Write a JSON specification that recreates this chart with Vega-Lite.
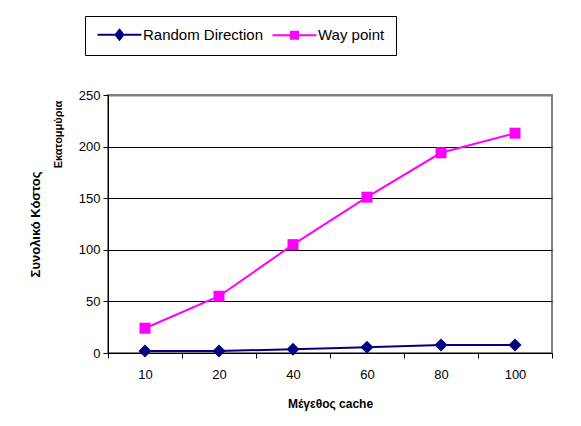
{
  "$schema": "https://vega.github.io/schema/vega-lite/v6.json",
  "width": 444,
  "height": 258,
  "autosize": {"type": "none"},
  "padding": {"left": 108, "top": 95, "right": 29, "bottom": 73},
  "background": "white",
  "config": {
    "font": "Liberation Sans",
    "view": {"stroke": "#808080", "strokeWidth": 2},
    "axis": {"labelFont": "Liberation Sans", "titleFont": "Liberation Sans", "labelColor": "#000", "titleColor": "#000"},
    "legend": {"labelFont": "Liberation Sans"}
  },
  "data": {
    "values": [
      {"size": 10, "series": "Random Direction", "cost": 2},
      {"size": 20, "series": "Random Direction", "cost": 2},
      {"size": 40, "series": "Random Direction", "cost": 3.6},
      {"size": 60, "series": "Random Direction", "cost": 5.5},
      {"size": 80, "series": "Random Direction", "cost": 7.7},
      {"size": 100, "series": "Random Direction", "cost": 7.8},
      {"size": 10, "series": "Way point", "cost": 24},
      {"size": 20, "series": "Way point", "cost": 55},
      {"size": 40, "series": "Way point", "cost": 105},
      {"size": 60, "series": "Way point", "cost": 151},
      {"size": 80, "series": "Way point", "cost": 194},
      {"size": 100, "series": "Way point", "cost": 213}
    ]
  },
  "layer": [
    {
      "encoding": {
        "x": {
          "field": "size",
          "type": "ordinal",
          "scale": {"type": "band", "paddingInner": 0, "paddingOuter": 0},
          "axis": {
            "title": "Μέγεθος cache",
            "titleFontSize": 12,
            "titleFontWeight": "bold",
            "titlePadding": 17,
            "labelAngle": 0,
            "labelFontSize": 13,
            "labelPadding": 10,
            "tickBand": "extent",
            "tickSize": 5,
            "tickColor": "#000",
            "domainColor": "#000",
            "grid": false
          }
        },
        "y": {
          "field": "cost",
          "type": "quantitative",
          "scale": {"domain": [0, 250]},
          "axis": {
            "title": "Συνολικό Κόστος",
            "titleFontSize": 13,
            "titleFontWeight": "bold",
            "titleAngle": -90,
            "titleX": -73,
            "titleY": 129,
            "titleAlign": "center",
            "titleBaseline": "middle",
            "values": [0, 50, 100, 150, 200, 250],
            "labelFontSize": 13,
            "labelPadding": 3,
            "tickSize": 5,
            "tickColor": "#000",
            "domainColor": "#000",
            "gridColor": {"condition": {"test": "datum.value === 250", "value": "#808080"}, "value": "#000"},
            "gridWidth": {"condition": {"test": "datum.value === 250", "value": 2}, "value": 1}
          }
        }
      },
      "layer": [
        {
          "transform": [{"filter": "datum.series === 'Random Direction'"}],
          "mark": {"type": "line", "strokeWidth": 2, "color": "#000080"}
        },
        {
          "transform": [{"filter": "datum.series === 'Way point'"}],
          "mark": {"type": "line", "strokeWidth": 2, "color": "#FF00FF"}
        },
        {
          "transform": [{"filter": "datum.series === 'Random Direction'"}],
          "mark": {"type": "point", "shape": "diamond", "filled": true, "size": 169, "opacity": 1, "color": "#000080"}
        },
        {
          "transform": [{"filter": "datum.series === 'Way point'"}],
          "mark": {"type": "point", "shape": "square", "filled": true, "size": 121, "opacity": 1, "color": "#FF00FF"}
        }
      ]
    },
    {
      "transform": [{"filter": "datum.cost < 0"}],
      "mark": {"type": "point", "filled": true, "opacity": 1, "strokeWidth": 2},
      "encoding": {
        "y": {
          "field": "cost",
          "type": "quantitative",
          "scale": {"domain": [0, 250]},
          "axis": {
            "orient": "left",
            "title": "Εκατομμύρια",
            "titleFontSize": 11,
            "titleFontWeight": "bold",
            "titleAngle": -90,
            "titleX": -50,
            "titleY": 39,
            "titleAlign": "center",
            "titleBaseline": "middle",
            "labels": false,
            "ticks": false,
            "domain": false,
            "grid": false
          }
        },
        "fill": {
          "field": "series",
          "type": "nominal",
          "scale": {"domain": ["Random Direction", "Way point"], "range": ["#000080", "#FF00FF"]},
          "legend": {
            "orient": "none", "legendX": -23, "legendY": -79, "direction": "horizontal", "title": null,
            "strokeColor": "#000", "fillColor": "white", "padding": 11, "labelFontSize": 15, "labelColor": "#000",
            "symbolSize": 144, "symbolStrokeWidth": 2, "labelOffset": 32, "columnPadding": 4
          }
        },
        "stroke": {
          "field": "series",
          "type": "nominal",
          "scale": {"domain": ["Random Direction", "Way point"], "range": ["#000080", "#FF00FF"]},
          "legend": {
            "orient": "none", "legendX": -23, "legendY": -79, "direction": "horizontal", "title": null,
            "strokeColor": "#000", "fillColor": "white", "padding": 11, "labelFontSize": 15, "labelColor": "#000",
            "symbolSize": 144, "symbolStrokeWidth": 2, "labelOffset": 32, "columnPadding": 4
          }
        },
        "shape": {
          "field": "series",
          "type": "nominal",
          "scale": {
            "domain": ["Random Direction", "Way point"],
            "range": [
              "M-1,0L6.33,0M2,0L2.67,-0.83L3.33,0L2.67,0.83Z",
              "M-1,0L6.33,0M2.08,-0.58L3.25,-0.58L3.25,0.58L2.08,0.58Z"
            ]
          },
          "legend": {
            "orient": "none", "legendX": -23, "legendY": -79, "direction": "horizontal", "title": null,
            "strokeColor": "#000", "fillColor": "white", "padding": 11, "labelFontSize": 15, "labelColor": "#000",
            "symbolSize": 144, "symbolStrokeWidth": 2, "labelOffset": 32, "columnPadding": 4
          }
        }
      }
    }
  ],
  "resolve": {"scale": {"y": "independent"}, "axis": {"y": "independent"}}
}
